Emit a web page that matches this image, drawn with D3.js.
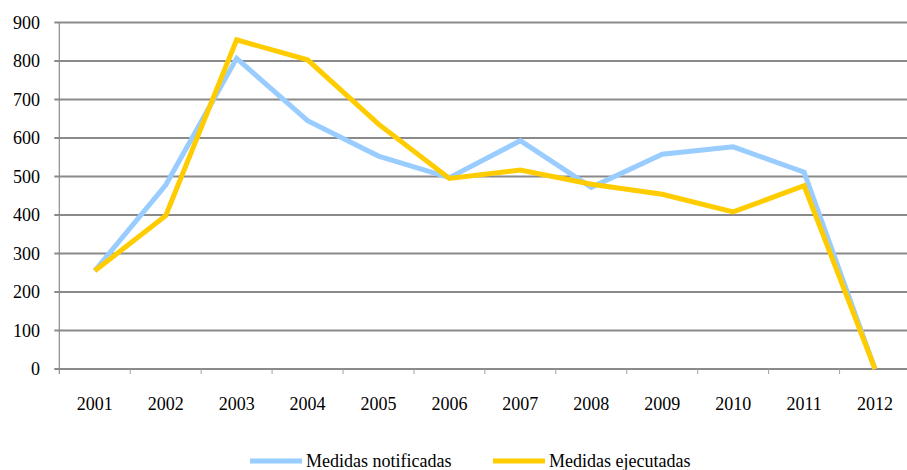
<!DOCTYPE html>
<style>
    body { margin: 0; background: #fff; }
    svg { display: block; }
    svg text { font-family: "Liberation Serif", Times, "DejaVu Serif", serif; }
</style>
<svg width="907" height="470"></svg>

<script src="https://d3js.org/d3.v7.min.js"></script>
<script>
    var years = ["2001", "2002", "2003", "2004", "2005", "2006", "2007", "2008", "2009", "2010", "2011", "2012"];
    var notificadas = [255, 478, 807, 645, 553, 497, 593, 472, 558, 577, 511, 0];
    var ejecutadas = [255, 398, 855, 803, 636, 495, 517, 480, 454, 408, 476, 0];
    var yTicks = [0, 100, 200, 300, 400, 500, 600, 700, 800, 900];
    var seriesNames = ["Medidas notificadas", "Medidas ejecutadas"];
    var seriesColors = ["#99ccff", "#ffcc00"];

    var svg = d3.select("svg"),
        plotLeft = 59.3,
        plotRight = 910.5,
        plotTop = 22.5,
        plotBottom = 369;

    var x = d3.scaleBand().domain(years).range([plotLeft, plotRight]).paddingInner(0).paddingOuter(0);
    var y = d3.scaleLinear().domain([0, 900]).range([plotBottom, plotTop]);

    // gridlines
    svg.append("g")
        .selectAll("line")
        .data(yTicks)
        .enter().append("line")
        .attr("x1", plotLeft - 5)
        .attr("x2", plotRight)
        .attr("y1", function (d) { return y(d); })
        .attr("y2", function (d) { return y(d); })
        .attr("stroke", "#8a8a8a")
        .attr("stroke-width", 1.8);

    // left axis line
    svg.append("line")
        .attr("x1", plotLeft).attr("x2", plotLeft)
        .attr("y1", plotTop).attr("y2", plotBottom + 5)
        .attr("stroke", "#8a8a8a")
        .attr("stroke-width", 1.2);

    // x tick marks at band boundaries
    svg.append("g")
        .selectAll("line")
        .data(years.slice(1))
        .enter().append("line")
        .attr("x1", function (d) { return x(d); })
        .attr("x2", function (d) { return x(d); })
        .attr("y1", plotBottom)
        .attr("y2", plotBottom + 5)
        .attr("stroke", "#a0a0a0")
        .attr("stroke-width", 1);

    // y labels
    svg.append("g")
        .selectAll("text")
        .data(yTicks)
        .enter().append("text")
        .attr("x", 40)
        .attr("y", function (d) { return y(d); })
        .attr("dy", "0.35em")
        .attr("text-anchor", "end")
        .attr("font-size", 18)
        .attr("fill", "#000")
        .text(function (d) { return d; });

    // x labels
    svg.append("g")
        .selectAll("text")
        .data(years)
        .enter().append("text")
        .attr("x", function (d) { return x(d) + x.bandwidth() / 2; })
        .attr("y", 410)
        .attr("text-anchor", "middle")
        .attr("font-size", 18)
        .attr("fill", "#000")
        .text(function (d) { return d; });

    var line = d3.line()
        .x(function (d, i) { return x(years[i]) + x.bandwidth() / 2; })
        .y(function (d) { return y(d); });

    [notificadas, ejecutadas].forEach(function (vals, k) {
        svg.append("path")
            .datum(vals)
            .attr("fill", "none")
            .attr("stroke", seriesColors[k])
            .attr("stroke-width", 5)
            .attr("stroke-linejoin", "miter")
            .attr("d", line);
    });

    // legend
    var legX = [250, 493];
    var legend = svg.append("g")
        .selectAll("g")
        .data(seriesNames)
        .enter().append("g")
        .attr("transform", function (d, i) { return "translate(" + legX[i] + ",461)"; });

    legend.append("line")
        .attr("x1", 0).attr("x2", 52)
        .attr("stroke", function (d, i) { return seriesColors[i]; })
        .attr("stroke-width", 5);

    legend.append("text")
        .attr("x", 56)
        .attr("dy", "0.35em")
        .attr("font-size", 18)
        .attr("fill", "#000")
        .text(function (d) { return d; });
</script>
